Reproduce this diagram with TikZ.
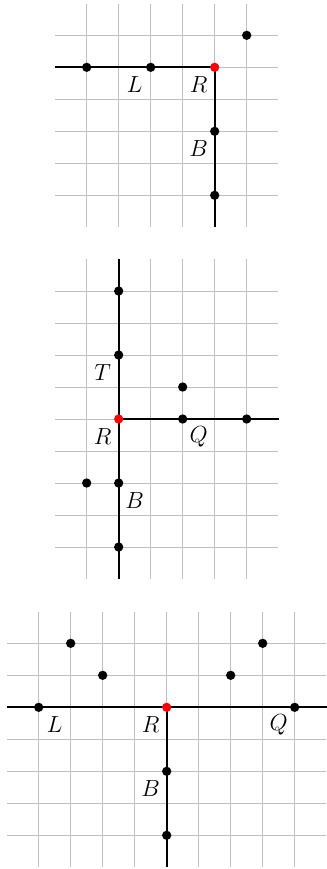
\documentclass[tikz,border=0pt]{standalone}
\tikzset{
  gridline/.style={draw=black!25, line width=0.9pt},
  axisline/.style={draw=black, line width=2pt},
  dotnode/.style={circle, fill=black, inner sep=0pt, minimum size=0.29cm},
  reddot/.style={dotnode, fill=red},
  lbl/.style={inner sep=0pt, font=\huge},
  lblBL/.style={lbl, xshift=-0.5cm, yshift=-0.55cm},
  lblBR/.style={lbl, xshift=0.5cm, yshift=-0.55cm}
}
\begin{document}
\begin{tikzpicture}
\useasboundingbox (0,0) rectangle (10.1875,-27.156);
% ---------- Panel 1 ----------
\begin{scope}[shift={(6.709,-2.103)}]
  \draw[gridline] (-4.99,-4.99) grid (1.99,1.99);
  \coordinate (a1w) at (-5,0);
  \coordinate (a1c) at (0,0);
  \coordinate (a1s) at (0,-5);
  \draw[axisline] (a1w) -- (a1c) -- (a1s);
  \node[dotnode] (a1p1) at (-4,0) {};
  \node[dotnode] (a1L) at (-2,0) {};
  \node[dotnode] (a1p2) at (1,1) {};
  \node[dotnode] (a1B) at (0,-2) {};
  \node[dotnode] (a1p3) at (0,-4) {};
  \node[reddot] (a1R) at (0,0) {};
  \node[lblBL] (t1L) at (a1L) {$L$};
  \node[lblBL] (t1R) at (a1R) {$R$};
  \node[lblBL] (t1B) at (a1B) {$B$};
\end{scope}
% ---------- Panel 2 ----------
\begin{scope}[shift={(3.709,-13.094)}]
  \draw[gridline] (-1.99,-4.99) grid (4.99,4.99);
  \coordinate (a2n) at (0,5);
  \coordinate (a2s) at (0,-5);
  \coordinate (a2c) at (0,0);
  \coordinate (a2e) at (5,0);
  \draw[axisline] (a2n) -- (a2s);
  \draw[axisline] (a2c) -- (a2e);
  \node[dotnode] (a2p1) at (0,4) {};
  \node[dotnode] (a2T) at (0,2) {};
  \node[dotnode] (a2p2) at (2,1) {};
  \node[dotnode] (a2Q) at (2,0) {};
  \node[dotnode] (a2p3) at (4,0) {};
  \node[dotnode] (a2p4) at (-1,-2) {};
  \node[dotnode] (a2B) at (0,-2) {};
  \node[dotnode] (a2p5) at (0,-4) {};
  \node[reddot] (a2R) at (0,0) {};
  \node[lblBL] (t2T) at (a2T) {$T$};
  \node[lblBL] (t2R) at (a2R) {$R$};
  \node[lblBR] (t2Q) at (a2Q) {$Q$};
  \node[lblBR] (t2B) at (a2B) {$B$};
\end{scope}
% ---------- Panel 3 ----------
\begin{scope}[shift={(5.209,-22.103)}]
  \draw[gridline] (-4.99,-4.99) grid (4.99,2.99);
  \coordinate (a3w) at (-5,0);
  \coordinate (a3e) at (5,0);
  \coordinate (a3c) at (0,0);
  \coordinate (a3s) at (0,-5);
  \draw[axisline] (a3w) -- (a3e);
  \draw[axisline] (a3c) -- (a3s);
  \node[dotnode] (a3L) at (-4,0) {};
  \node[dotnode] (a3p1) at (-3,2) {};
  \node[dotnode] (a3p2) at (-2,1) {};
  \node[dotnode] (a3p3) at (2,1) {};
  \node[dotnode] (a3p4) at (3,2) {};
  \node[dotnode] (a3Q) at (4,0) {};
  \node[dotnode] (a3B) at (0,-2) {};
  \node[dotnode] (a3p5) at (0,-4) {};
  \node[reddot] (a3R) at (0,0) {};
  \node[lblBR] (t3L) at (a3L) {$L$};
  \node[lblBL] (t3R) at (a3R) {$R$};
  \node[lblBL] (t3Q) at (a3Q) {$Q$};
  \node[lblBL] (t3B) at (a3B) {$B$};
\end{scope}
\end{tikzpicture}
\end{document}
